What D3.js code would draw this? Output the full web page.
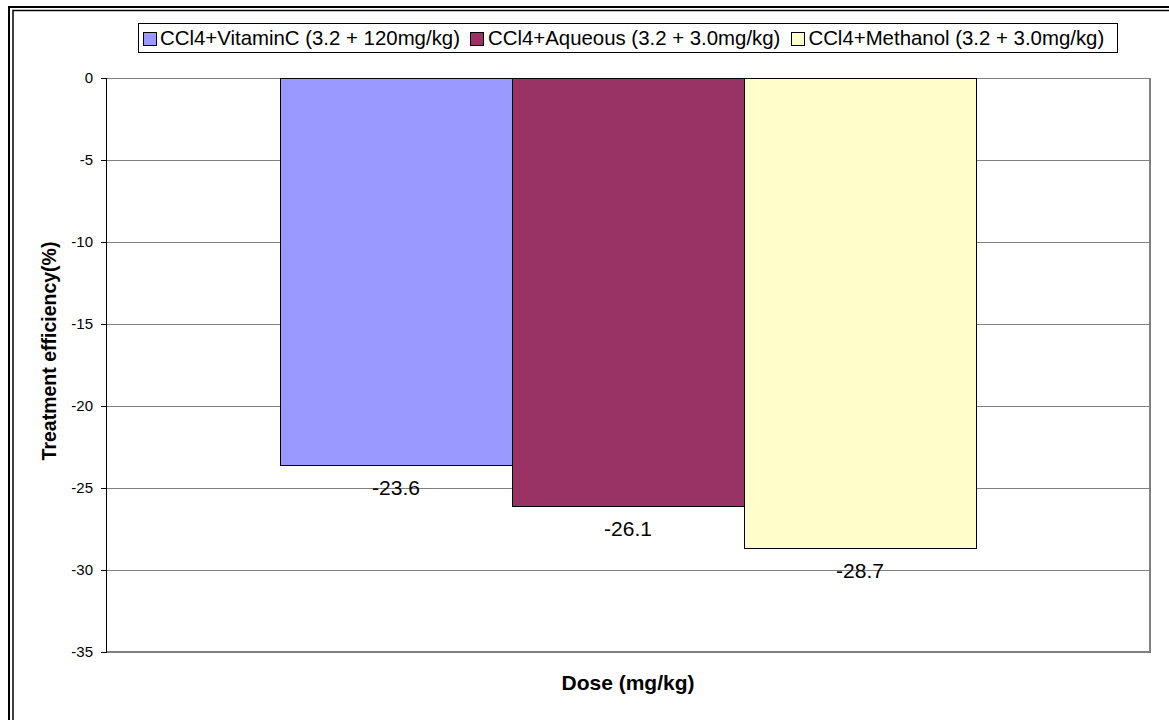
<!DOCTYPE html>
<html>
<head>
<meta charset="utf-8">
<script src="https://cdn.jsdelivr.net/npm/d3@7/dist/d3.min.js"></script>
<style>
  html, body { margin: 0; padding: 0; background: #ffffff; }
  svg { display: block; font-family: "Liberation Sans", Arial, sans-serif; }
</style>
</head>
<body>
<svg id="chart" width="1169" height="720"></svg>
<script>
// Data
const categories = ["Dose"];
const seriesNames = [
  "CCl4+VitaminC (3.2 + 120mg/kg)",
  "CCl4+Aqueous (3.2 + 3.0mg/kg)",
  "CCl4+Methanol (3.2 + 3.0mg/kg)"
];
const seriesValues = [-23.6, -26.1, -28.7];
const seriesColors = ["#9999FF", "#993366", "#FFFFCC"];
const yTicks = [0, -5, -10, -15, -20, -25, -30, -35];

const svg = d3.select("#chart");
const W = 1169, H = 720;

// Double outer frame (continues past the page edge on right and bottom)
svg.append("path")
  .attr("d", `M9,${H + 20} V7 H${W + 20}`)
  .attr("fill", "none").attr("stroke", "#000").attr("stroke-width", 2);
svg.append("path")
  .attr("d", `M13,${H + 20} V10.5 H${W + 20}`)
  .attr("fill", "none").attr("stroke", "#000").attr("stroke-width", 1.5);

// Plot area
const plot = { left: 106, top: 78, right: 1150, bottom: 652 };

const y = d3.scaleLinear().domain([-35, 0]).range([plot.bottom, plot.top]);
const x0 = d3.scaleBand().domain(categories).range([plot.left, plot.right])
  .paddingInner(0).paddingOuter(0);
const x1 = d3.scaleBand().domain(seriesNames).range([0, x0.bandwidth()])
  .paddingInner(0).paddingOuter(0.75);

// Gridlines
svg.append("g").selectAll("line")
  .data(yTicks.filter(t => t !== 0 && t !== -35))
  .join("line")
  .attr("x1", plot.left).attr("x2", plot.right)
  .attr("y1", d => y(d)).attr("y2", d => y(d))
  .attr("stroke", "#808080").attr("stroke-width", 1)
  .attr("shape-rendering", "crispEdges");

// Plot area border (gray)
svg.append("line")
  .attr("x1", plot.left).attr("x2", plot.right)
  .attr("y1", y(0)).attr("y2", y(0))
  .attr("stroke", "#808080").attr("stroke-width", 1).attr("shape-rendering", "crispEdges");
svg.append("line")
  .attr("x1", plot.right).attr("x2", plot.right)
  .attr("y1", plot.top).attr("y2", plot.bottom + 1)
  .attr("stroke", "#808080").attr("stroke-width", 2).attr("shape-rendering", "crispEdges");
svg.append("line")
  .attr("x1", plot.left).attr("x2", plot.right + 1)
  .attr("y1", plot.bottom).attr("y2", plot.bottom)
  .attr("stroke", "#808080").attr("stroke-width", 2).attr("shape-rendering", "crispEdges");

// Bars
const bars = svg.append("g");
categories.forEach(cat => {
  bars.selectAll(null)
    .data(seriesNames.map((s, i) => ({ s, v: seriesValues[i], c: seriesColors[i] })))
    .join("rect")
    .attr("x", d => x0(cat) + x1(d.s))
    .attr("y", y(0))
    .attr("width", x1.bandwidth())
    .attr("height", d => y(d.v) - y(0))
    .attr("fill", d => d.c)
    .attr("stroke", "#000").attr("stroke-width", 1)
    .attr("shape-rendering", "crispEdges");

  // Value labels below each bar end
  bars.selectAll(null)
    .data(seriesNames.map((s, i) => ({ s, v: seriesValues[i] })))
    .join("text")
    .attr("x", d => x0(cat) + x1(d.s) + x1.bandwidth() / 2)
    .attr("y", d => y(d.v) + 29.5)
    .attr("text-anchor", "middle")
    .attr("font-size", 21)
    .attr("fill", "#000")
    .text(d => d.v.toFixed(1));
});

// Y axis
const yAxis = d3.axisLeft(y).tickValues(yTicks).tickSize(5).tickPadding(8)
  .tickFormat(d => d3.format("d")(d).replace("−", "-"));
const gy = svg.append("g").attr("transform", `translate(${plot.left},0)`).call(yAxis);
gy.select(".domain").attr("stroke", "#000").attr("shape-rendering", "crispEdges")
  .attr("d", `M-5,${plot.top}H0V${plot.bottom}H-5`);
gy.selectAll(".tick line").attr("stroke", "#000").attr("shape-rendering", "crispEdges");
gy.selectAll(".tick text")
  .attr("font-family", "\"Liberation Sans\", Arial, sans-serif")
  .attr("font-size", 15).attr("fill", "#000");

// Axis titles
svg.append("text")
  .attr("transform", "translate(56,351) rotate(-90)")
  .attr("text-anchor", "middle")
  .attr("font-size", 19.5).attr("font-weight", "bold")
  .text("Treatment efficiency(%)");

svg.append("text")
  .attr("x", (plot.left + plot.right) / 2)
  .attr("y", 690)
  .attr("text-anchor", "middle")
  .attr("font-size", 21).attr("font-weight", "bold")
  .text("Dose (mg/kg)");

// Legend
const legend = svg.append("g");
const lgBox = legend.append("rect")
  .attr("fill", "#fff").attr("stroke", "#000").attr("stroke-width", 1)
  .attr("shape-rendering", "crispEdges");
let lx = 143;
const sq = 13, lgTop = 23, lgH = 29;
seriesNames.forEach((name, i) => {
  legend.append("rect")
    .attr("x", lx).attr("y", lgTop + (lgH - sq) / 2 + 1)
    .attr("width", sq).attr("height", sq)
    .attr("fill", seriesColors[i]).attr("stroke", "#000").attr("stroke-width", 1)
    .attr("shape-rendering", "crispEdges");
  const t = legend.append("text")
    .attr("x", lx + sq + 4).attr("y", 44.5)
    .attr("font-size", 20.4).attr("fill", "#000")
    .text(name);
  lx = lx + sq + 4 + t.node().getComputedTextLength() + 11;
});
lgBox.attr("x", 138.5).attr("y", lgTop + 0.5)
  .attr("width", (lx - 11 + 13) - 138.5).attr("height", lgH);
</script>
</body>
</html>
